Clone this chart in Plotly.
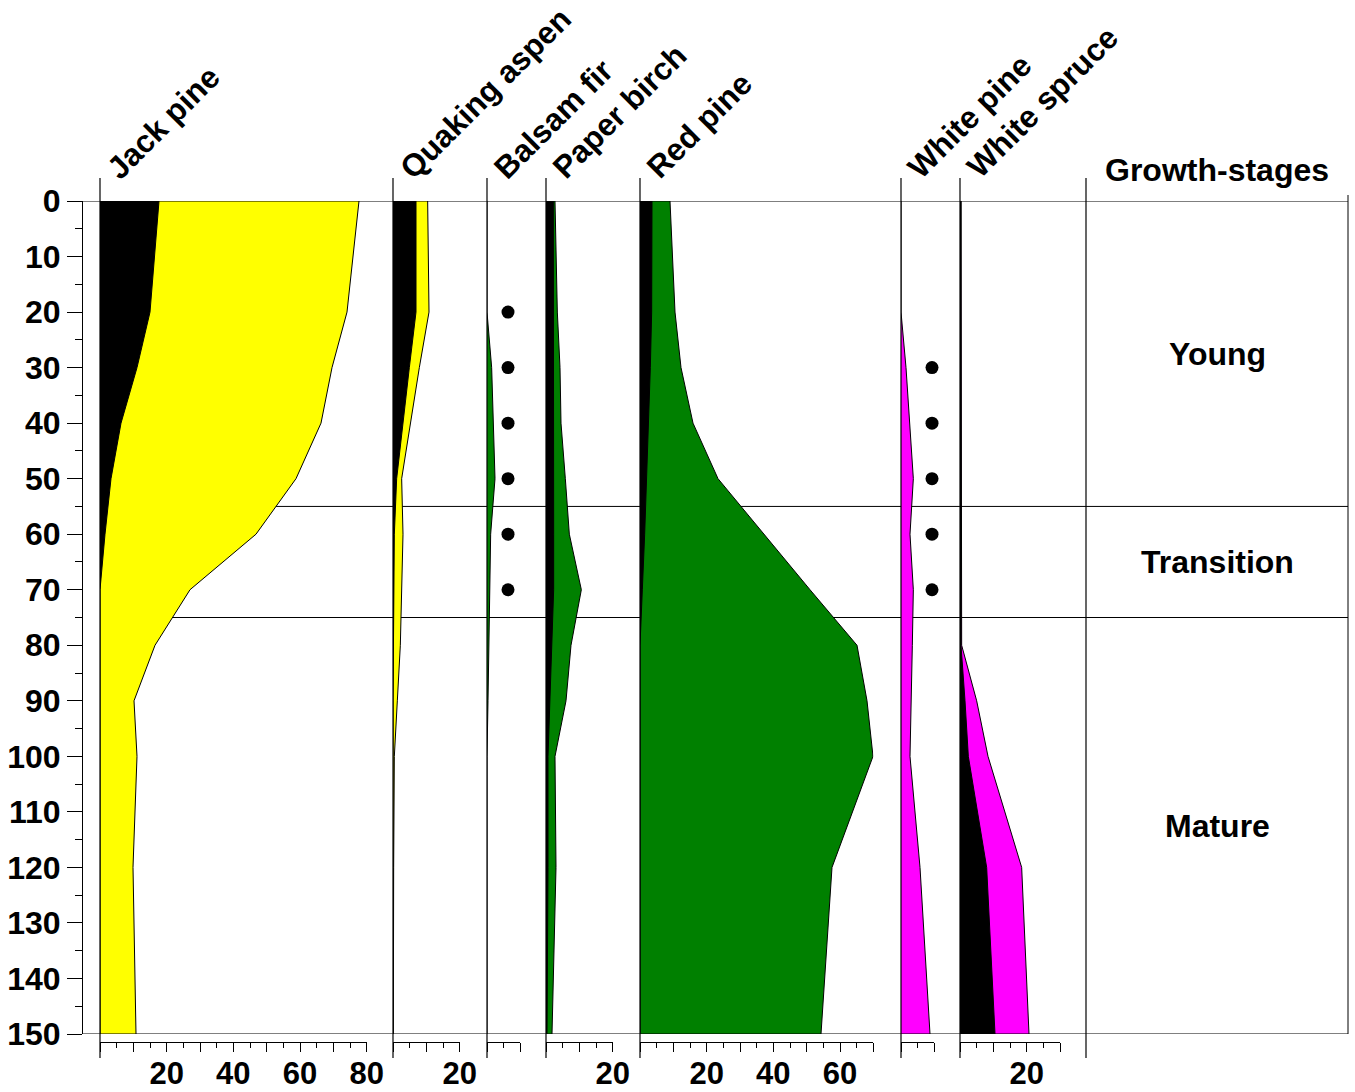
import plotly.graph_objects as go

W, H = 1355, 1092

# ---------------- data ----------------
depth = [0, 20, 30, 40, 50, 60, 70, 80, 90, 100, 120, 150]

jack_black = [17.7, 15.0, 11.1, 6.3, 3.3, 1.5, 0, 0, 0, 0, 0, 0]
jack_total = [77.7, 74.1, 69.6, 66.3, 58.8, 46.8, 27.0, 16.5, 10.2, 11.1, 9.9, 10.8]

aspen_black = [6.9, 6.9, 4.9, 3.0, 1.1, 0.4, 0.2, 0.1, 0, 0, 0, 0]
aspen_total = [10.4, 10.8, 7.9, 5.3, 2.6, 3.0, 2.7, 2.2, 1.3, 0.4, 0.2, 0.1]

fir_total = [0, 0, 1.4, 1.9, 2.4, 1.1, 0.9, 0.7, 0.3, 0, 0, 0]
fir_dot_depth = [20, 30, 40, 50, 60, 70]
fir_dot_value = [6.3, 6.3, 6.3, 6.3, 6.3, 6.3]

birch_black = [2.2, 2.3, 2.3, 2.3, 2.3, 2.3, 2.3, 1.7, 1.2, 0.6, 0.6, 0.3]
birch_total = [2.7, 3.4, 4.2, 4.5, 5.8, 7.0, 10.6, 7.5, 6.0, 2.7, 3.0, 1.8]

red_black = [3.6, 3.5, 3.1, 2.6, 2.0, 1.4, 0.7, 0, 0, 0, 0, 0]
red_total = [9.0, 10.5, 12.3, 15.9, 23.4, 37.2, 51.0, 65.1, 68.1, 69.9, 57.6, 54.3]

wpine_total = [0, 0, 1.5, 2.6, 3.7, 2.7, 3.7, 3.4, 3.1, 2.7, 5.7, 8.7]
wpine_dot_depth = [30, 40, 50, 60, 70]
wpine_dot_value = [9.3, 9.3, 9.3, 9.3, 9.3]

spruce_black = [0.3, 0.3, 0.3, 0.4, 0.5, 0.5, 0.5, 0.3, 1.5, 2.5, 8.0, 10.5]
spruce_total = [0.3, 0.3, 0.3, 0.4, 0.5, 0.5, 0.5, 0.5, 5.0, 8.4, 18.5, 20.7]

species = ["Jack pine", "Quaking aspen", "Balsam fir", "Paper birch",
           "Red pine", "White pine", "White spruce"]
axis_max = [80, 20, 10, 20, 70, 10, 30]

stage_names = ["Young", "Transition", "Mature"]
stage_bounds = [0, 55, 75, 150]

depth_ticks = list(range(0, 151, 10))

# ---------------- layout helpers ----------------
YELLOW, GREEN, MAGENTA, BLACK = "#FFFF00", "#008000", "#FF00FF", "#000000"
PX = 10 / 3  # pixels per percent unit
lefts = [100, 393, 487, 546, 640, 901, 960]
GS_LEFT, GS_RIGHT = 1086, 1348
Y_TOP, Y_BOT = 201, 1034

def px_x(p):
    return p / W

def px_y(p):
    return 1 - p / H

panel_series = [
    [(jack_total, YELLOW), (jack_black, BLACK)],
    [(aspen_total, YELLOW), (aspen_black, BLACK)],
    [(fir_total, GREEN)],
    [(birch_total, GREEN), (birch_black, BLACK)],
    [(red_total, GREEN), (red_black, BLACK)],
    [(wpine_total, MAGENTA)],
    [(spruce_total, MAGENTA), (spruce_black, BLACK)],
]
panel_dots = {2: (fir_dot_value, fir_dot_depth), 5: (wpine_dot_value, wpine_dot_depth)}

FONT = "Liberation Sans, Arial, sans-serif"
fig = go.Figure()
layout = dict(
    width=W, height=H, margin=dict(l=0, r=0, t=0, b=0, autoexpand=False),
    paper_bgcolor="white", plot_bgcolor="rgba(0,0,0,0)",
    showlegend=False,
    font=dict(family=FONT, size=32, color="black", weight="bold"),
)

n = len(species)
for i in range(n):
    ax = "" if i == 0 else str(i + 1)
    for vals, col in panel_series[i]:
        fig.add_trace(go.Scatter(
            x=vals, y=depth, xaxis="x" + ax, yaxis="y", mode="lines",
            line=dict(color="black", width=1), fill="tozerox", fillcolor=col,
            hoverinfo="skip"))
    if i in panel_dots:
        dv, dd = panel_dots[i]
        fig.add_trace(go.Scatter(
            x=dv, y=dd, xaxis="x" + ax, yaxis="y", mode="markers",
            marker=dict(color="black", size=13), cliponaxis=False,
            hoverinfo="skip"))
    vmax = axis_max[i]
    left = lefts[i]
    dom = [px_x(left), px_x(left + vmax * PX)]
    major = list(range(0, vmax + 1, 10))
    text = [str(v) if (v > 0 and v % 20 == 0) else "" for v in major]
    minor_vals = list(range(5, vmax + 1, 10))
    layout["xaxis" + ax] = dict(
        domain=dom, range=[0, vmax], anchor="free", position=px_y(1042),
        side="bottom", showline=True, linecolor="black", linewidth=1,
        showgrid=False, zeroline=False, ticks="outside", ticklen=9,
        tickwidth=1, tickcolor="black", tickmode="array", tickvals=major,
        ticktext=text, ticklabelstandoff=-5, automargin=False,
        tickfont=dict(size=31),
        minor=dict(tickmode="array", tickvals=minor_vals, ticks="outside",
                   ticklen=5, tickwidth=1, tickcolor="black", showgrid=False),
        fixedrange=True,
    )
    top_name = "xaxis" + str(n + i + 1)
    layout[top_name] = dict(
        overlaying="x" + ax, range=[0, vmax], anchor="free", position=px_y(193),
        side="top", showline=True, linecolor="black", linewidth=1,
        showgrid=False, zeroline=False, ticks="inside", ticklen=4,
        tickwidth=1, tickcolor="black", tickmode="array",
        tickvals=list(range(0, vmax + 1, 5)), showticklabels=False,
        automargin=False, fixedrange=True,
    )

layout["yaxis"] = dict(
    domain=[px_y(Y_BOT), px_y(Y_TOP)], range=[150, 0], anchor="free",
    position=px_x(82), side="left", showline=True, linecolor="black",
    linewidth=1, showgrid=False, zeroline=False, ticks="outside", ticklen=15,
    tickwidth=1, tickcolor="black", tickmode="array", tickvals=depth_ticks,
    ticktext=[str(v) for v in depth_ticks], ticklabelstandoff=0,
    automargin=False, tickfont=dict(size=32),
    minor=dict(tickmode="array", tickvals=list(range(5, 150, 10)),
               ticks="outside", ticklen=7, tickwidth=1, tickcolor="black",
               showgrid=False),
    fixedrange=True,
)

shapes = []
# stage boundaries (behind the fills)
for b in stage_bounds[1:-1]:
    shapes.append(dict(type="line", xref="paper", yref="y", x0=px_x(lefts[0]),
                       x1=px_x(GS_RIGHT), y0=b, y1=b, layer="below",
                       line=dict(color="black", width=1)))
# top and bottom frame lines
for b in (stage_bounds[0], stage_bounds[-1]):
    shapes.append(dict(type="line", xref="paper", yref="y", x0=px_x(82),
                       x1=px_x(GS_RIGHT), y0=b, y1=b, layer="above",
                       line=dict(color="black", width=1)))
# panel separators
for x in lefts + [GS_LEFT]:
    shapes.append(dict(type="line", xref="paper", yref="paper", x0=px_x(x),
                       x1=px_x(x), y0=px_y(1058), y1=px_y(178), layer="above",
                       line=dict(color="black", width=1.2)))
shapes.append(dict(type="line", xref="paper", yref="paper", x0=px_x(GS_RIGHT),
                   x1=px_x(GS_RIGHT), y0=px_y(Y_BOT), y1=px_y(195), layer="above",
                   line=dict(color="black", width=1)))
layout["shapes"] = shapes

annotations = []
for i, name in enumerate(species):
    annotations.append(dict(
        text=name, xref="paper", yref="paper", x=px_x(lefts[i] - 3),
        y=px_y(188), xanchor="left", yanchor="bottom", textangle=-45,
        showarrow=False, font=dict(size=31.5)))
annotations.append(dict(
    text="Growth-stages", xref="paper", yref="paper",
    x=px_x((GS_LEFT + GS_RIGHT) / 2), y=px_y(170), xanchor="center",
    yanchor="middle", showarrow=False, font=dict(size=32)))
for k, s in enumerate(stage_names):
    annotations.append(dict(
        text=s, xref="paper", yref="y", x=px_x((GS_LEFT + GS_RIGHT) / 2),
        y=(stage_bounds[k] + stage_bounds[k + 1]) / 2, xanchor="center",
        yanchor="middle", showarrow=False, font=dict(size=32)))
layout["annotations"] = annotations

fig.update_layout(**layout)
fig.write_html(
    "out.html",
    config={"displayModeBar": False, "staticPlot": True},
    post_script=("document.body.style.margin='0';"
                 "document.body.style.padding='0';"
                 "document.documentElement.style.overflow='hidden';"),
)
